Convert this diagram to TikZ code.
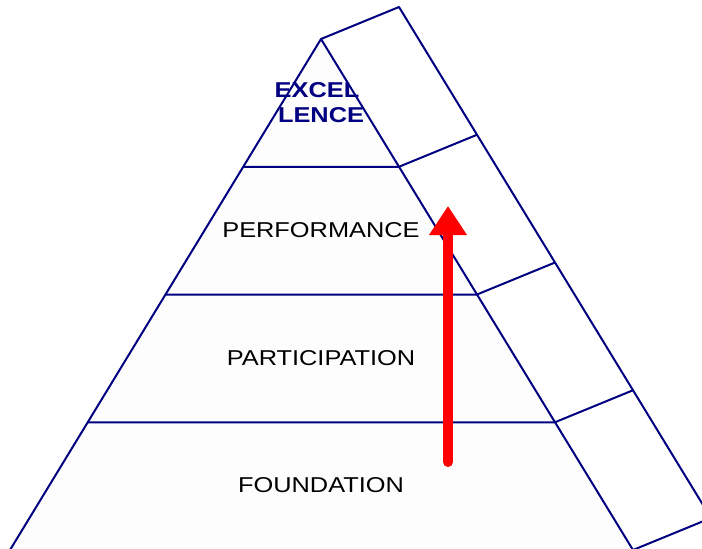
\documentclass[tikz,border=0pt]{standalone}
\usepackage{fontspec}
\usetikzlibrary{arrows.meta,calc}
\newfontfamily\tierfont[FakeStretch=1.18]{Liberation Sans}
\definecolor{navy}{HTML}{000080}
\definecolor{paper}{HTML}{FDFDFD}

\begin{document}
\begin{tikzpicture}[x=1pt,y=-1pt,
    edge/.style={draw=navy,line width=2pt,line join=round},
    tier/.style={font=\tierfont\fontsize{21.5}{25}\selectfont,text=black,inner sep=0pt,anchor=base},
    peak/.style={tier,font=\tierfont\bfseries\fontsize{21.5}{25}\selectfont,text=navy},
    climb/.style={draw=red,line width=10pt,line cap=round,-{Triangle[length=29pt,width=36pt]}}]
  \useasboundingbox (0,0) rectangle (702,549);
  \clip (0,0) rectangle (702,549);
  % corners of the front face; the side face is the front edge pushed back by (78,-32)
  \coordinate (apex) at (321,39);
  \coordinate (base-l) at (10,550);
  \coordinate (base-r) at (633,550);
  \foreach \i/\f in {1/0.25,2/0.5,3/0.75}{
    \coordinate (lvl\i-l) at ($(apex)!\f!(base-l)$);
    \coordinate (lvl\i-r) at ($(apex)!\f!(base-r)$);
  }
  % faces
  \fill[paper] (apex) -- (base-l) -- (base-r) -- cycle;
  \fill[white] (apex) -- ++(78,-32) -- ($(base-r)+(78,-32)$) -- (base-r) -- cycle;
  % tier labels
  \node[peak] (excel) at (317,97) {EXCEL};
  \node[peak] (lence) at (321,122) {LENCE};
  \node[tier] (perf) at (321,237) {PERFORMANCE};
  \node[tier] (part) at (321,365) {PARTICIPATION};
  \node[tier] (found) at (321,492) {FOUNDATION};
  % outlines
  \draw[edge] (apex) -- (base-l) -- (base-r) -- cycle;
  \draw[edge] (apex) -- ++(78,-32) -- ($(base-r)+(78,-32)$) -- (base-r);
  \foreach \i in {1,2,3}
    \draw[edge] (lvl\i-l) -- (lvl\i-r) -- ++(78,-32);
  % upward arrow
  \coordinate (rise-start) at (448,462);
  \coordinate (rise-end) at (448,206);
  \draw[climb] (rise-start) -- (rise-end);
\end{tikzpicture}
\end{document}
